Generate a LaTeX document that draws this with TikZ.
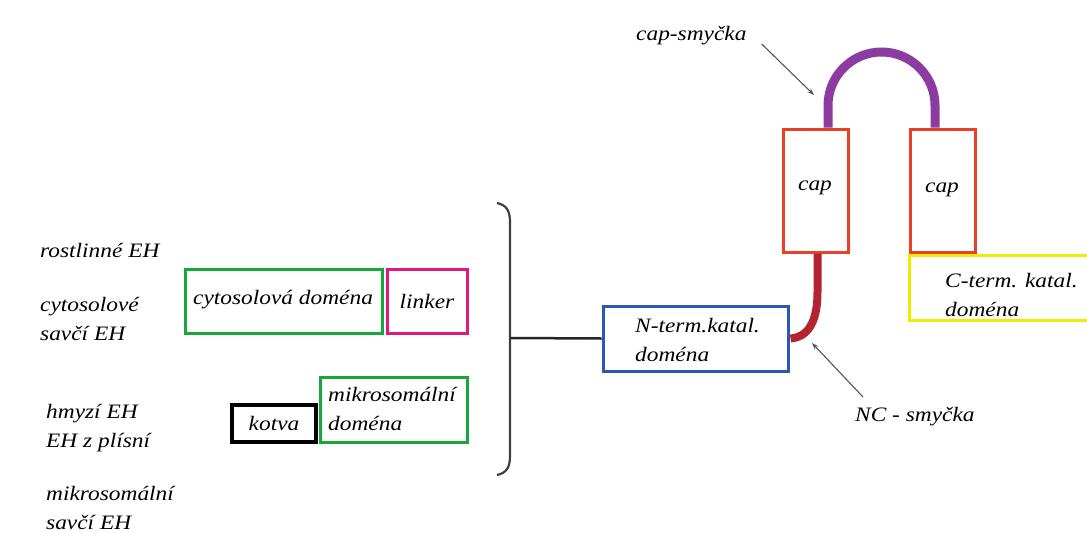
\documentclass[tikz,border=0pt]{standalone}
\usepackage{fontspec}
\setmainfont{Liberation Serif}[FakeStretch=1.14]
\usetikzlibrary{arrows.meta}
\definecolor{grn}{RGB}{24,168,58}
\definecolor{pnk}{RGB}{226,24,124}
\definecolor{capred}{RGB}{234,64,40}
\definecolor{nblue}{RGB}{40,90,180}
\definecolor{cyel}{RGB}{240,236,0}
\definecolor{loopviolet}{RGB}{140,60,160}
\definecolor{ncred}{RGB}{178,36,50}
\definecolor{pointer}{RGB}{85,85,85}
\tikzset{
  lbl/.style={font=\itshape\fontsize{20.5}{29}\selectfont, inner sep=0pt, align=left, anchor=west},
  pointerarrow/.style={draw=pointer, line width=1.1pt, -{Stealth[length=7pt,width=5pt]}}
}
\begin{document}
\begin{tikzpicture}[x=1pt,y=-1pt]
\useasboundingbox (0,0) rectangle (1087,533);

% enzyme classes
\node[lbl] (plant) at (40,250) {rostlinné EH};
\node[lbl] (cyto) at (40,319) {cytosolové\\savčí EH};
\node[lbl] (insect) at (46,428) {hmyzí EH\\EH z plísní};
\node[lbl] (micro) at (46,508) {mikrosomální\\savčí EH};

% domain boxes on the left
\node[draw=grn, line width=3pt, minimum width=197pt, minimum height=64pt, inner sep=0pt] (cytdom) at (283.5,301) {};
\node[lbl] at (193,300) {cytosolová doména};
\node[draw=pnk, line width=3pt, minimum width=80pt, minimum height=64pt, inner sep=0pt] (linker) at (427,301) {};
\node[lbl, anchor=center] at (linker) {linker};
\node[draw=black, line width=4pt, minimum width=84pt, minimum height=37pt, inner sep=0pt] (kotva) at (274,423.5) {};
\node[lbl, anchor=center] at (kotva) {kotva};
\node[draw=grn, line width=3pt, minimum width=147pt, minimum height=65pt, inner sep=0pt] (mikdom) at (393.5,409.5) {};
\node[lbl] at (328,409) {mikrosomální\\doména};

% bracket and stem
\coordinate (btop) at (497,203);
\coordinate (bbot) at (497,475);
\coordinate (bmid) at (510,338);
\draw[draw=black!75, line width=2.2pt] (btop) .. controls (506,205) and (510,210) .. (510,222)
  -- (510,456) .. controls (510,468) and (506,473) .. (bbot);

% N-terminal catalytic domain
\node[draw=nblue, line width=3pt, minimum width=185pt, minimum height=65pt, inner sep=0pt] (nterm) at (695.5,338.5) {};
\node[lbl] at (635,340) {N-term.katal.\\doména};
\draw[black!85, line width=2.5pt] (bmid) -- (nterm.west);

% cap domains
\node[draw=capred, line width=3pt, minimum width=65pt, minimum height=123pt, inner sep=0pt] (capL) at (815.5,190.5) {};
\node[lbl, anchor=center] at (815,188) {cap};
\node[draw=capred, line width=3pt, minimum width=65pt, minimum height=123pt, inner sep=0pt] (capR) at (942.5,190.5) {};
\node[lbl, anchor=center] at (942,190) {cap};

% C-terminal catalytic domain (runs off the right edge)
\node[draw=cyel, line width=3pt, minimum width=182pt, minimum height=65pt, inner sep=0pt] (cterm) at (1000,287.5) {};
\node[lbl] at (945,295) {C-term. katal.\\doména};

% cap loop between the two cap domains
\draw[draw=loopviolet, line width=9pt] ([xshift=12.5pt]capL.north) -- ++(0,-22)
  arc[start angle=180, end angle=360, radius=53.5] -- ([xshift=-7.5pt]capR.north);

% NC loop from the N-terminal domain up to the first cap
\draw[draw=ncred, line width=8pt] ([xshift=2pt]capL.south) -- (817.5,292)
  .. controls (817.5,322) and (808,337) .. ([xshift=1pt]nterm.east);

% loop labels
\node[lbl] (caplbl) at (636,36) {cap-smyčka};
\node[lbl] (nclbl) at (855,417) {NC - smyčka};
\coordinate (captip) at (814,95);
\coordinate (nctip) at (812,343);
\draw[pointerarrow] ([shift={(15,8)}]caplbl.east) -- (captip);
\draw[pointerarrow] (863,397) -- (nctip);
\end{tikzpicture}
\end{document}
